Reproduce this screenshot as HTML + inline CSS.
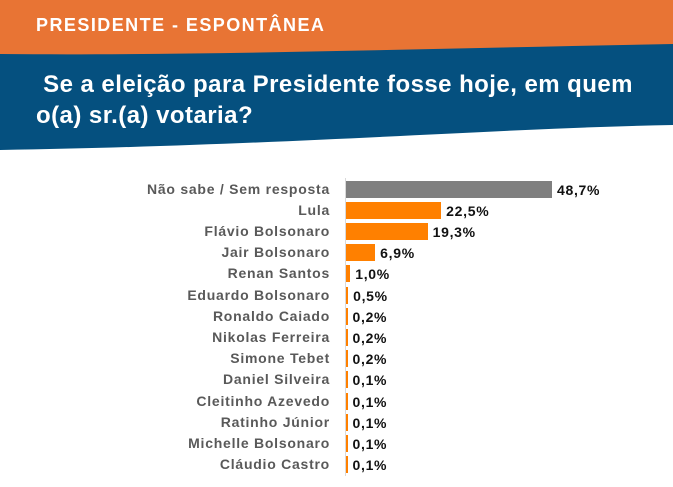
<!DOCTYPE html>
<html><head><meta charset="utf-8"><style>
body{margin:0;width:673px;height:487px;background:#fff;position:relative;overflow:hidden;font-family:"Liberation Sans",sans-serif}
svg{position:absolute;left:0;top:0}
.h1{position:absolute;left:36px;top:15px;color:#fff;font-weight:bold;font-size:18px;letter-spacing:1.45px}
.h2{position:absolute;left:36px;top:69px;color:#fff;font-weight:bold;font-size:24px;letter-spacing:0.45px;line-height:31px}
.lab{position:absolute;right:343px;font-size:14px;letter-spacing:0.75px;font-weight:bold;color:#595959;white-space:nowrap}
.bar{position:absolute;left:346px;height:17px}
.val{position:absolute;font-size:14px;letter-spacing:0.7px;font-weight:bold;color:#111}
</style></head><body>
<svg width="673" height="487">
<rect x="0" y="0" width="673" height="60" fill="#E87434"/>
<path d="M0 54 C200 56 450 48 673 44 L673 125 C500 128 300 145 0 150 Z" fill="#05507F"/>
<line x1="345.5" y1="178" x2="345.5" y2="476" stroke="#d9d9d9"/>
</svg>
<div class="h1">PRESIDENTE - ESPONTÂNEA</div>
<div class="h2">&nbsp;Se a eleição para Presidente fosse hoje, em quem<br>o(a) sr.(a) votaria?</div>
<div id="c"></div>
<script>
var d=[["Não sabe / Sem resposta",48.7],["Lula",22.5],["Flávio Bolsonaro",19.3],["Jair Bolsonaro",6.9],["Renan Santos",1.0],["Eduardo Bolsonaro",0.5],["Ronaldo Caiado",0.2],["Nikolas Ferreira",0.2],["Simone Tebet",0.2],["Daniel Silveira",0.1],["Cleitinho Azevedo",0.1],["Ratinho Júnior",0.1],["Michelle Bolsonaro",0.1],["Cláudio Castro",0.1]];
var h="";d.forEach(function(r,i){var cy=189+i*21.2;var w=Math.max(r[1]*4.23,1.5);
h+='<div class="lab" style="top:'+(cy-8.5)+'px">'+r[0]+'</div>';
h+='<div class="bar" style="top:'+(cy-8.5)+'px;width:'+w+'px;background:'+(i==0?'#7F7F7F':'#FF8000')+'"></div>';
h+='<div class="val" style="top:'+(cy-7.5)+'px;left:'+(346+w+5)+'px">'+r[1].toFixed(1).replace('.',',')+'%</div>';});
document.getElementById("c").innerHTML=h;
</script>
</body></html>
